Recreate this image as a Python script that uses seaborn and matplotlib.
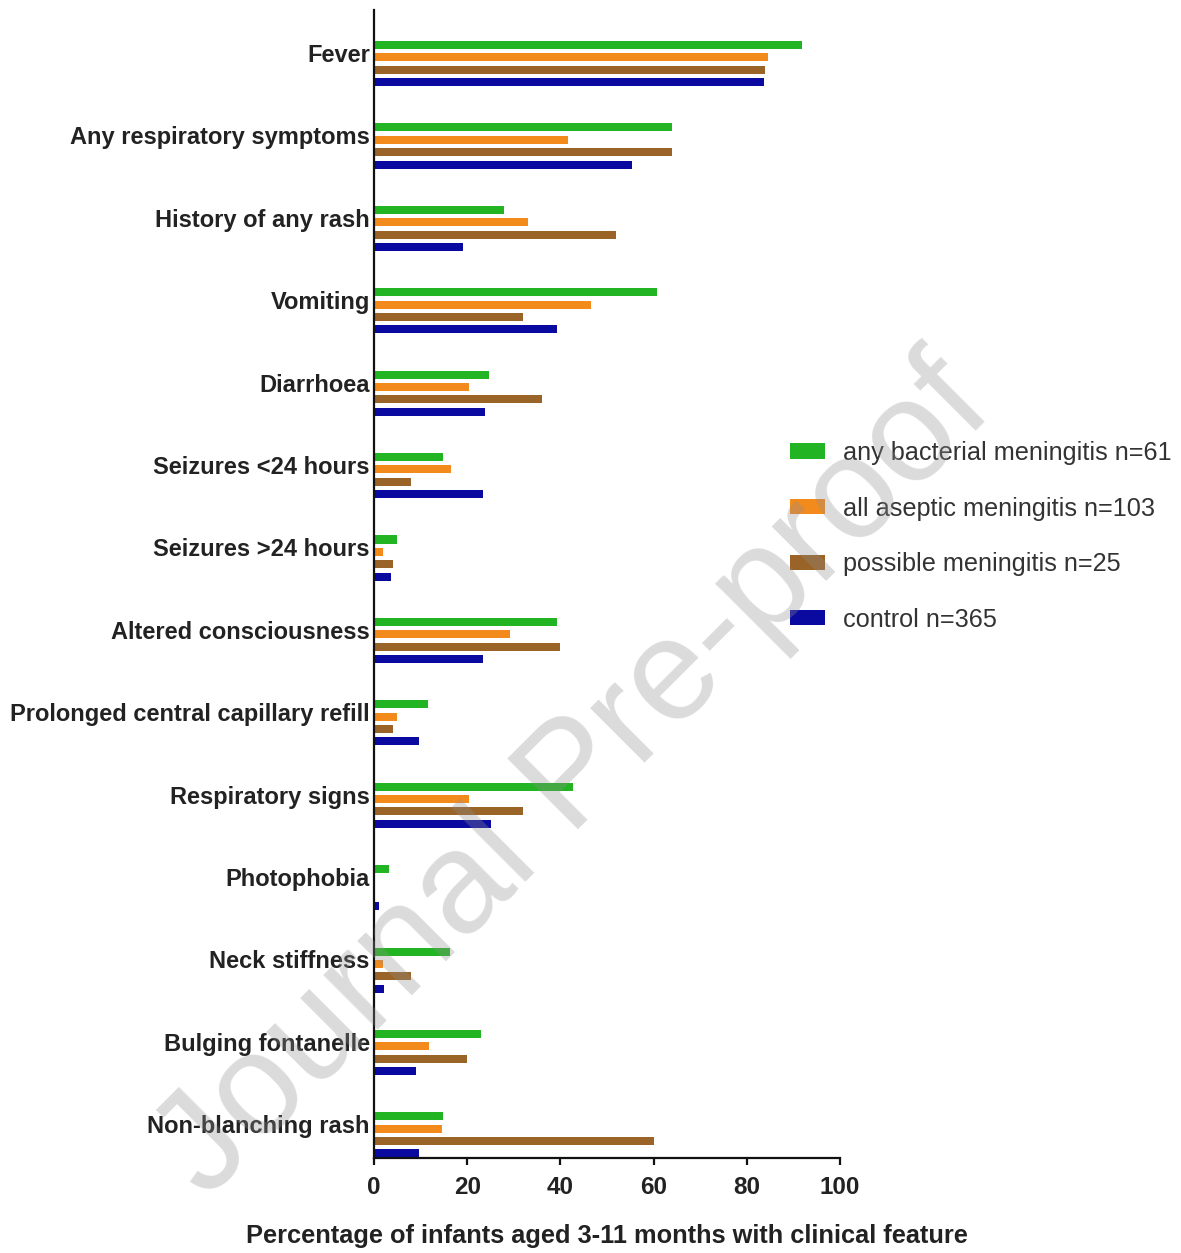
import numpy as np
import pandas as pd
import matplotlib
matplotlib.use("Agg")
import matplotlib.pyplot as plt
import seaborn as sns

FAMILY = ["Liberation Sans", "DejaVu Sans"]
plt.rcParams["font.family"] = FAMILY

# Clinical features (top to bottom)
features = [
    "Fever",
    "Any respiratory symptoms",
    "History of any rash",
    "Vomiting",
    "Diarrhoea",
    "Seizures <24 hours",
    "Seizures >24 hours",
    "Altered consciousness",
    "Prolonged central capillary refill",
    "Respiratory signs",
    "Photophobia",
    "Neck stiffness",
    "Bulging fontanelle",
    "Non-blanching rash",
]

groups = [
    "any bacterial meningitis n=61",
    "all aseptic meningitis n=103",
    "possible meningitis n=25",
    "control n=365",
]

# Percentage of infants with each feature
bacterial = [91.8, 63.9, 27.9, 60.7, 24.6, 14.8, 4.9, 39.3, 11.5, 42.6, 3.3, 16.4, 23.0, 14.8]
aseptic = [84.5, 41.7, 33.0, 46.6, 20.4, 16.5, 1.9, 29.1, 4.9, 20.4, 0.0, 1.9, 11.7, 14.6]
possible = [84.0, 64.0, 52.0, 32.0, 36.0, 8.0, 4.0, 40.0, 4.0, 32.0, 0.0, 8.0, 20.0, 60.0]
control = [83.6, 55.3, 19.2, 39.2, 23.8, 23.3, 3.6, 23.3, 9.6, 25.2, 1.1, 2.2, 9.0, 9.6]

colors = ["#22b422", "#f28a1c", "#9a6428", "#0a0aa0"]

xticks = [0, 20, 40, 60, 80, 100]

df = pd.DataFrame({
    "feature": np.repeat(features, len(groups)),
    "group": groups * len(features),
    "pct": np.ravel(np.column_stack([bacterial, aseptic, possible, control])),
})

W, H, DPI = 1181, 1253, 100
fig = plt.figure(figsize=(W / DPI, H / DPI), dpi=DPI)
ax = fig.add_axes([374 / W, 1 - 1158 / H, (840 - 374) / W, (1158 - 10) / H])

sns.barplot(
    data=df, x="pct", y="feature", hue="group",
    order=features, hue_order=groups, palette=colors,
    orient="h", width=0.6, gap=0.35, ax=ax, legend=True,
    saturation=1.0, errorbar=None,
)

ax.set_xlim(0, 100)
ax.set_ylim(13.28, -0.65)

# category labels sit slightly above each bar group
ax.set_yticks(np.arange(len(features)) - 0.13)
ax.set_yticklabels(features, fontsize=17, fontweight="bold", color="#222222",
                   family=FAMILY)
ax.tick_params(axis="y", length=0, pad=3)

ax.set_xticks(xticks)
ax.set_xticklabels([str(t) for t in xticks], fontsize=17.5, fontweight="bold",
                   color="#222222", family=FAMILY)
ax.tick_params(axis="x", length=5, width=1.6, pad=8, direction="out", color="#111111")

ax.set_ylabel("")
ax.set_xlabel("Percentage of infants aged 3-11 months with clinical feature",
              fontsize=18.3, fontweight="bold", color="#222222", labelpad=18,
              family=FAMILY)

for side in ["top", "right"]:
    ax.spines[side].set_visible(False)
for side in ["left", "bottom"]:
    ax.spines[side].set_linewidth(1.6)
    ax.spines[side].set_color("#111111")

handles, labels = ax.get_legend_handles_labels()
ax.legend_.remove()
fig.legend(
    handles, labels, loc="upper left",
    bbox_to_anchor=(790 / W, 1 - 441 / H),
    frameon=False, borderpad=0, borderaxespad=0,
    prop={"family": FAMILY, "size": 18.2},
    handlelength=1.38, handleheight=0.55, handletextpad=0.71,
    labelspacing=1.25, labelcolor="#333333",
)

# watermark
fig.text(575 / W, 1 - 780 / H, "Journal Pre-proof", fontsize=104,
         rotation=45, ha="center", va="center", color="#909090", alpha=0.32,
         family=FAMILY, zorder=10)

fig.savefig("out.png", dpi=DPI)
